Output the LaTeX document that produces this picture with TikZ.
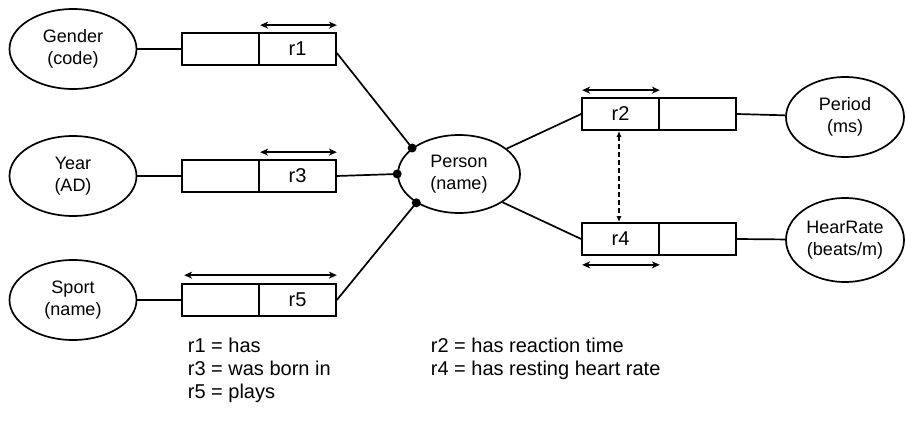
\documentclass[tikz,border=0pt]{standalone}
\usepackage{fontspec}
\setmainfont{Liberation Sans}
\usetikzlibrary{arrows.meta,shapes.geometric}
\begin{document}
\begin{tikzpicture}[x=1pt,y=-1pt,
  line width=1.7pt,
  entity/.style={draw,ellipse,inner sep=0pt,minimum width=127pt,minimum height=80pt,
    align=center,font=\fontsize{18}{21.5}\selectfont},
  half/.style={draw,rectangle,inner sep=0pt,minimum width=77pt,minimum height=32pt,
    font=\fontsize{20}{24}\selectfont},
  link/.style={line width=1.7pt},
  span/.style={line width=1.7pt,{Stealth[length=8pt,width=7pt]}-{Stealth[length=8pt,width=7pt]}},
  joint/.style={circle,fill=black,inner sep=0pt,minimum size=9pt},
  legend/.style={anchor=base west,inner sep=0pt,font=\fontsize{20}{24}\selectfont}]
\useasboundingbox (0,0) rectangle (906,433);

% value types on the left
\node[entity] (gender) at (73,49) {Gender\\(code)};
\node[entity] (year)   at (73,176) {Year\\(AD)};
\node[entity] (sport)  at (73,300) {Sport\\(name)};

% central entity
\node[entity,minimum width=122pt,minimum height=78pt] (person) at (459,174) {Person\\(name)};

% value types on the right
\node[entity,minimum width=118pt,minimum height=80pt] (period) at (845,117) {Period\\(ms)};
\node[entity,minimum width=118pt,minimum height=84pt] (heart)  at (845,240) {HearRate\\(beats/m)};

% fact types (two roles each)
\node[half] (r1a) at (220.5,49) {};
\node[half] (r1b) at (297.5,49) {r1};
\node[half] (r3a) at (220.5,176) {};
\node[half] (r3b) at (297.5,176) {r3};
\node[half] (r5a) at (220.5,300) {};
\node[half] (r5b) at (297.5,300) {r5};
\node[half] (r2a) at (620.5,114) {r2};
\node[half] (r2b) at (697.5,114) {};
\node[half] (r4a) at (620.5,239) {r4};
\node[half] (r4b) at (697.5,239) {};

% mandatory role dots on Person
\node[joint] (d1) at (person.151) {};
\node[joint] (d3) at (person.180) {};
\node[joint] (d5) at (person.214) {};

% connectors
\draw[link] (gender) -- (r1a.west);
\draw[link] (year) -- (r3a.west);
\draw[link] (sport) -- (r5a.west);
\draw[link] ([yshift=-4pt]r1b.east) -- (d1.center);
\draw[link] (r3b.east) -- (d3.center);
\draw[link] (r5b.east) -- (d5.center);
\draw[link] (person.28) -- (r2a.west);
\draw[link] (person.-33) -- (r4a.west);
\draw[link] (r2b.east) -- (period);
\draw[link] (r4b.east) -- (heart);

% uniqueness constraints
\draw[span] ([shift={(2pt,7pt)}]r1b.north west) -- ([yshift=7pt]r1b.north east);
\draw[span] ([shift={(2pt,7pt)}]r3b.north west) -- ([yshift=7pt]r3b.north east);
\draw[span] ([shift={(3pt,8pt)}]r5a.north west) -- ([yshift=8pt]r5b.north east);
\draw[span] ([shift={(1pt,7pt)}]r2a.north west) -- ([yshift=7pt]r2a.north east);
\draw[span] ([shift={(1pt,-9pt)}]r4a.south west) -- ([yshift=-9pt]r4a.south east);

% constraint between r2 and r4
\draw[line width=1.3pt,dash pattern=on 5pt off 3pt,
  {Latex[length=6pt,width=5pt]}-{Latex[length=6pt,width=5pt]}]
  ([xshift=-1.5pt]r2a.south) -- ([xshift=-1.5pt]r4a.north);

% legend
\node[legend] (l1) at (187,352) {r1 = has};
\node[legend] (l3) at (187,375) {r3 = was born in};
\node[legend] (l5) at (187,398) {r5 = plays};
\node[legend] (l2) at (430,352) {r2 = has reaction time};
\node[legend] (l4) at (430,375) {r4 = has resting heart rate};
\end{tikzpicture}
\end{document}
